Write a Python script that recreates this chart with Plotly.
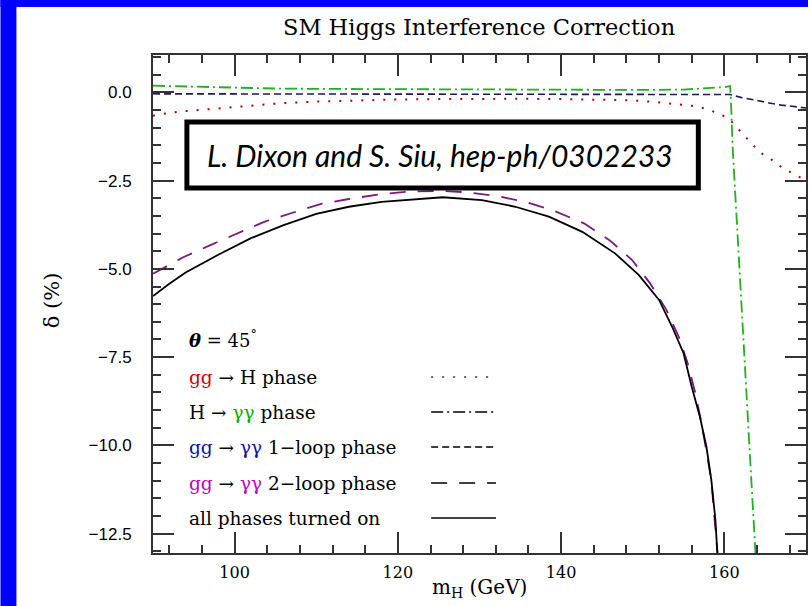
import plotly.graph_objects as go

# ---------------- data ----------------
x_ggH = [90, 92, 94, 96, 98, 100, 103, 106, 110, 115, 120, 125, 130, 135, 140, 145, 148, 151, 154,
         156, 157.5, 159, 160.5, 161.5, 162.5, 163.5, 164.5, 166, 167, 168.5, 170]
y_ggH = [-0.66, -0.58, -0.53, -0.49, -0.45, -0.42, -0.35, -0.30, -0.26, -0.22, -0.20, -0.19, -0.18,
         -0.18, -0.19, -0.20, -0.22, -0.26, -0.32, -0.38, -0.45, -0.57, -0.73, -0.99, -1.24, -1.49,
         -1.72, -1.94, -2.12, -2.32, -2.50]

x_Hgg = [90, 95, 100, 105, 110, 120, 130, 140, 150, 155, 158, 160, 160.7, 160.8, 161.0, 161.5,
         162.0, 162.5, 163.0, 163.5, 164.0]
y_Hgg = [0.19, 0.16, 0.13, 0.11, 0.10, 0.09, 0.08, 0.07, 0.07, 0.08, 0.11, 0.15, 0.18, -0.2, -1.5,
         -3.6, -5.8, -7.7, -9.7, -11.8, -13.8]

x_1loop = [90, 100, 110, 120, 130, 140, 150, 155, 158, 160, 160.7, 162, 163, 164.5, 166, 167, 168.5, 170]
y_1loop = [-0.04, -0.04, -0.04, -0.04, -0.04, -0.04, -0.04, -0.04, -0.04, -0.05, -0.06, -0.14,
           -0.19, -0.26, -0.32, -0.36, -0.40, -0.44]

x_2loop = [90, 93.7, 97.1, 100.4, 103.7, 107.1, 110.6, 114.0, 117.7, 121.2, 125, 128.5, 132,
           135.6, 139.1, 142.8, 146, 148.7, 150.9, 152.9, 154.4, 155.5, 156.4, 157.2, 157.8,
           158.4, 158.7, 159.0, 159.3]
y_2loop = [-5.14, -4.67, -4.32, -3.99, -3.66, -3.41, -3.16, -3.02, -2.89, -2.81, -2.79, -2.83,
           -2.93, -3.10, -3.35, -3.71, -4.20, -4.75, -5.41, -6.16, -6.92, -7.67, -8.48, -9.37,
           -10.22, -10.98, -11.83, -12.59, -13.4]

x_all = [90, 92, 94, 98, 102, 106, 110, 114, 118, 122, 125.5, 130.3, 134.4, 138.5, 142.6, 146.6,
         149.5, 152, 153.6, 155, 156, 157, 157.8, 158.4, 158.9, 159.2]
y_all = [-5.77, -5.42, -5.10, -4.60, -4.13, -3.76, -3.44, -3.24, -3.10, -3.02, -2.97, -3.05,
         -3.24, -3.52, -3.95, -4.56, -5.17, -5.88, -6.64, -7.39, -8.34, -9.19, -10.04, -10.98,
         -12.11, -13.3]

legend_labels = [
    '<span style="color:#d00000">gg</span> → H phase',
    'H → <span style="color:#00b000">γγ</span> phase',
    '<span style="color:#1010a0">gg</span> → <span style="color:#1010a0">γγ</span> 1−loop phase',
    '<span style="color:#c000c0">gg</span> → <span style="color:#c000c0">γγ</span> 2−loop phase',
    'all phases turned on',
]
x_ticks = [100, 120, 140, 160]
y_ticks = [0.0, -2.5, -5.0, -7.5, -10.0, -12.5]

# ---------------- styles ----------------
W, H = 810, 606
ML, MR, MT, MB = 153, 2, 55, 53
PW, PH = W - ML - MR, H - MT - MB


def px(x):
    return (x - ML) / PW


def py(y):
    return (H - MB - y) / PH


styles = [
    dict(color="#b00000", width=2, dash="2px,9px"),
    dict(color="#20b020", width=1.8, dash="12px,4px,2px,4px"),
    dict(color="#1a1a60", width=1.6, dash="7px,4px"),
    dict(color="#7a1a80", width=1.8, dash="16px,12px"),
    dict(color="black", width=1.8),
]
series = [(x_ggH, y_ggH), (x_Hgg, y_Hgg), (x_1loop, y_1loop), (x_2loop, y_2loop), (x_all, y_all)]

fig = go.Figure()
for (xs, ys), st in zip(series, styles):
    fig.add_trace(go.Scatter(x=xs, y=ys, mode="lines", line=st, showlegend=False, hoverinfo="skip"))

axis_common = dict(
    showline=True, linecolor="#333", linewidth=2, mirror="allticks",
    ticks="inside", ticklen=21, tickwidth=1.5, tickcolor="#333",
    showgrid=False, zeroline=False,
)
fig.update_xaxes(range=[90, 170], tickvals=x_ticks, ticktext=[str(v) for v in x_ticks],
                 minor=dict(ticks="inside", ticklen=8, tickwidth=1.5, tickcolor="#333", dtick=4, tick0=0),
                 tickfont=dict(family="DejaVu Serif", size=16, color="black"),
                 ticklabelstandoff=4, **axis_common)
fig.update_yaxes(range=[-13.05, 1.06], tickvals=y_ticks, ticktext=[f"{v:.1f}".replace("-", "−") for v in y_ticks],
                 minor=dict(ticks="inside", ticklen=8, tickwidth=1.5, tickcolor="#333", dtick=0.5, tick0=0),
                 tickfont=dict(family="Liberation Sans", size=17, color="black"),
                 ticklabelstandoff=16, **axis_common)

shapes = [
    # blue frame
    dict(type="rect", xref="paper", yref="paper", x0=px(0), x1=px(16), y0=py(H), y1=py(0),
         fillcolor="#0000ff", line=dict(width=0), layer="above"),
    dict(type="rect", xref="paper", yref="paper", x0=px(0), x1=px(W), y0=py(7), y1=py(0),
         fillcolor="#0000ff", line=dict(width=0), layer="above"),
    # citation box
    dict(type="rect", xref="paper", yref="paper", x0=px(187), x1=px(700), y0=py(188), y1=py(122),
         fillcolor="white", line=dict(color="black", width=5), layer="above"),
]

legend_rows = [377, 412, 447, 483, 518]
for row, st in zip(legend_rows, styles):
    s = dict(st)
    s["color"] = "black" if st is not styles[0] else "#333"
    s["width"] = 1.4
    shapes.append(dict(type="line", xref="paper", yref="paper", x0=px(432), x1=px(497),
                       y0=py(row), y1=py(row), line=s, layer="above"))

annotations = [
    dict(text="SM Higgs Interference Correction", xref="paper", yref="paper", x=px(480), y=py(27),
         showarrow=False, font=dict(family="DejaVu Serif", size=22.5, color="black"),
         xanchor="center", yanchor="middle"),
    dict(text="m<sub>H</sub> (GeV)", xref="paper", yref="paper", x=px(480), y=py(588),
         showarrow=False, font=dict(family="DejaVu Serif", size=20, color="black"),
         xanchor="center", yanchor="middle"),
    dict(text="δ (%)", xref="paper", yref="paper", x=px(52), y=py(300), textangle=-90,
         showarrow=False, font=dict(family="DejaVu Serif", size=21, color="black"),
         xanchor="center", yanchor="middle"),
    dict(text="<i>L. Dixon and S. Siu, hep-ph/0302233</i>", xref="paper", yref="paper",
         x=px(441), y=py(155), showarrow=False,
         font=dict(family="Lato", size=30, color="black"), xanchor="center", yanchor="middle"),
    dict(text="<b><i>θ</i></b> = 45<sup>°</sup>", xref="paper", yref="paper", x=px(187), y=py(339),
         showarrow=False, font=dict(family="DejaVu Serif", size=18, color="black"),
         xanchor="left", yanchor="middle"),
]
for row, lab in zip(legend_rows, legend_labels):
    annotations.append(dict(text=lab, xref="paper", yref="paper", x=px(187), y=py(row),
                            showarrow=False, font=dict(family="DejaVu Serif", size=18.5, color="black"),
                            xanchor="left", yanchor="middle"))

fig.update_layout(width=W, height=H, margin=dict(l=ML, r=MR, t=MT, b=MB),
                  paper_bgcolor="white", plot_bgcolor="white",
                  shapes=shapes, annotations=annotations)

fig.write_html("out.html")
